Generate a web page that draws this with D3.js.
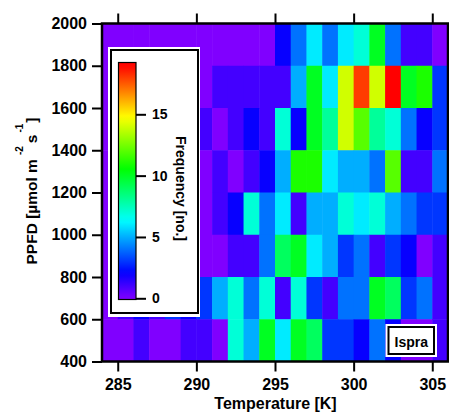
<!DOCTYPE html>
<html><head><meta charset="utf-8">
<script src="https://cdn.jsdelivr.net/npm/d3@7"></script>
<style>
html,body{margin:0;padding:0;background:#fff;}
text{font-family:"Liberation Sans",Arial,sans-serif;font-weight:bold;fill:#000;}
</style></head>
<body>
<svg id="c" width="449" height="418"></svg>
<script>
// Temperature bins (lower edges, K), 1 K wide
const tempBins = [284,285,286,287,288,289,290,291,292,293,294,295,296,297,298,299,300,301,302,303,304,305];
// PPFD bins (lower edges), 200 wide, listed top row first
const ppfdRows = [1800,1600,1400,1200,1000,800,600,400];
// Frequency per cell, one array per PPFD row (top to bottom)
const freq1800 = [0,0,0,0,0,0,0,0,0,0,0, 2,4,6,4,6,7,10,4,1,1,0];
const freq1600 = [0,0,0,0,0,0, 0, 1,1,1,1, 1,5,10,6,14,18,14,19,10,11,3];
const freq1400 = [0,1,0,1,0,1, 1, 0,1,2,1, 7,2,10,8,14,12,8,7,4,2,3];
const freq1200 = [0,1,1,0,1,0, 0, 1,0,1,2, 5,11,11,6,5,5,4,12,1,1,4];
const freq1000 = [0,1,0,2,1,1, 0, 1,2,7,4, 6,1,5,5,7,6,7,5,4,3,3];
const freq800  = [0,0,1,1,0,1, 0, 0,1,1,4, 9,10,6,5,3,4,1,3,2,0,1];
const freq600  = [0,1,2,1,3,2, 3, 5,7,4,7, 1,7,3,1,4,4,10,9,3,4,1];
const freq400  = [0,0,1,0,0,1, 1, 0,7,5,10, 6,10,9,3,3,2,4,2,0,0,1];
const freqRows = [freq1800,freq1600,freq1400,freq1200,freq1000,freq800,freq600,freq400];
const xTicks = [285,290,295,300,305];
const yTicks = [400,600,800,1000,1200,1400,1600,1800,2000];
const cbTicks = [0,5,10,15];
const freqMax = 19;
const tempWidth = 1, ppfdHeight = 200;

const svg = d3.select("#c");
const L = 102, R = 448, T = 23.5, B = 361.5;
const x = d3.scaleLinear().domain([284,306]).range([L,R]);
const y = d3.scaleLinear().domain([400,2000]).range([B,T]);
const color = v => d3.hsl(270 - 270*Math.max(0,Math.min(freqMax,v))/freqMax, 1, 0.5).toString();

const cells = [];
ppfdRows.forEach((p,ri)=>tempBins.forEach((t,ci)=>cells.push({t,p,v:freqRows[ri][ci]})));
svg.append("g").selectAll("rect").data(cells).join("rect")
  .attr("x",d=>x(d.t)).attr("width",d=>x(d.t+tempWidth)-x(d.t)+0.5)
  .attr("y",d=>y(d.p+ppfdHeight)).attr("height",d=>y(d.p)-y(d.p+ppfdHeight)+0.5)
  .attr("fill",d=>color(d.v));

function styleAxis(g){
  g.select(".domain").remove();
  g.selectAll(".tick line").attr("stroke","#000").attr("stroke-width",2);
  g.selectAll(".tick text").style("font-size","16px").style("font-family","'Liberation Sans',Arial,sans-serif").style("font-weight","bold");
}
svg.append("g").attr("transform",`translate(0,${B})`)
  .call(d3.axisBottom(x).tickValues(xTicks).tickSize(10).tickPadding(7).tickFormat(d3.format("d"))).call(styleAxis);
svg.append("g").attr("transform",`translate(0,${T})`)
  .call(d3.axisTop(x).tickValues(xTicks).tickSize(10).tickFormat("")).call(styleAxis);
svg.append("g").attr("transform",`translate(${L},0)`)
  .call(d3.axisLeft(y).tickValues(yTicks).tickSize(10).tickPadding(5).tickFormat(d3.format("d"))).call(styleAxis);

svg.append("rect").attr("x",L).attr("y",T).attr("width",R-L).attr("height",B-T)
  .attr("fill","none").attr("stroke","#000").attr("stroke-width",2.5);

// axis titles
svg.append("text").attr("x",275.5).attr("y",408.5).attr("text-anchor","middle")
  .style("font-size","16px").text("Temperature [K]");
const yt = svg.append("text").attr("transform","translate(37,191) rotate(-90)")
  .attr("text-anchor","middle").style("font-size","15.5px");
yt.append("tspan").text("PPFD [µmol m");
yt.append("tspan").attr("dx",4).attr("dy",-14).style("font-size","10px").text("-2");
yt.append("tspan").attr("dx",3).attr("dy",14).text("s");
yt.append("tspan").attr("dx",2).attr("dy",-14).style("font-size","10px").text("-1");
yt.append("tspan").attr("dx",1).attr("dy",14).text("]");

// legend box
svg.append("rect").attr("x",108).attr("y",47).attr("width",92).attr("height",270).attr("fill","#fff");
svg.append("rect").attr("x",111).attr("y",50).attr("width",87).attr("height",263).attr("fill","#fff")
  .attr("stroke","#000").attr("stroke-width",2);

const cb = d3.scaleLinear().domain([0,15]).range([298.3,114.3]);
const cbTop = 62.5, cbBot = 299.5;
const defs = svg.append("defs");
const grad = defs.append("linearGradient").attr("id","cbg").attr("x1",0).attr("y1",1).attr("x2",0).attr("y2",0);
d3.range(0,41).forEach(i=>{
  const yy = cbBot - (cbBot-cbTop)*i/40;
  grad.append("stop").attr("offset",i/40).attr("stop-color",color(cb.invert(yy)));
});
svg.append("rect").attr("x",118.5).attr("y",cbTop).attr("width",17.5).attr("height",cbBot-cbTop)
  .attr("fill","url(#cbg)").attr("stroke","#000").attr("stroke-width",1.2);
const cbAxis = svg.append("g").attr("transform","translate(136,0)")
  .call(d3.axisRight(cb).tickValues(cbTicks).tickSize(10).tickPadding(6).tickFormat(d3.format("d")));
cbAxis.select(".domain").remove();
cbAxis.selectAll(".tick line").attr("stroke","#000").attr("stroke-width",2);
cbAxis.selectAll(".tick text").style("font-size","14px").style("font-family","'Liberation Sans',Arial,sans-serif").style("font-weight","bold");
svg.append("text").attr("transform","translate(176,188.5) rotate(90)").attr("text-anchor","middle")
  .style("font-size","14px").text("Frequency [no.]");

// Ispra label
svg.append("rect").attr("x",385.5).attr("y",324).attr("width",51.5).attr("height",33).attr("fill","#fff");
svg.append("rect").attr("x",388.5).attr("y",327).attr("width",45.5).attr("height",27).attr("fill","#fff")
  .attr("stroke","#000").attr("stroke-width",2);
svg.append("text").attr("x",411.3).attr("y",346.5).attr("text-anchor","middle").style("font-size","14px").text("Ispra");
</script>
</body></html>
